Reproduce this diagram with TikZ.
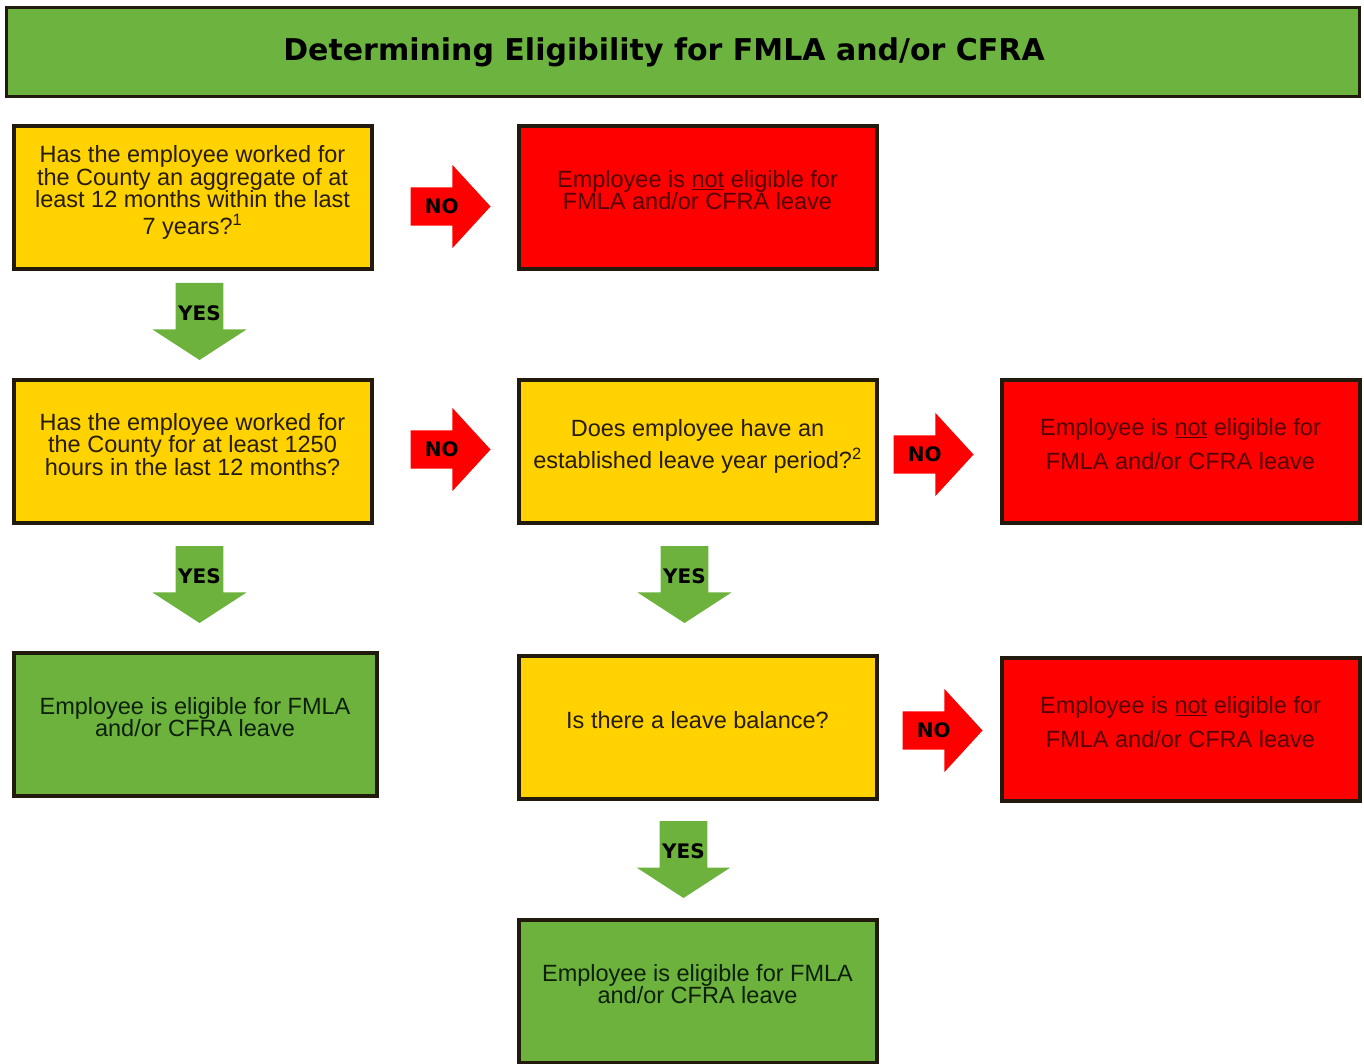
\documentclass[tikz,border=0pt]{standalone}
\usepackage{fontspec}
\setmainfont{Liberation Sans}
\newfontfamily\heavyfont{DejaVu Sans}
\usetikzlibrary{positioning,shapes.arrows,shadows}
\definecolor{titlegreen}{HTML}{6CB33F}
\definecolor{qyellow}{HTML}{FFD200}
\definecolor{nored}{HTML}{FF0000}
\definecolor{okgreen}{HTML}{6CB23C}
\definecolor{boxline}{HTML}{231A0E}
\definecolor{qtext}{HTML}{261C08}
\definecolor{notext}{HTML}{520202}
\definecolor{oktext}{HTML}{0C200A}
\tikzset{
  box/.style={rectangle, draw=boxline, line width=4pt, minimum width=358pt,
    minimum height=143pt, align=center, inner sep=4pt, text depth=15pt,
    font=\fontsize{23.5}{22.5}\selectfont,
    drop shadow={shadow xshift=2pt, shadow yshift=-2pt, opacity=.35}},
  question/.style={box, fill=qyellow, text=qtext},
  noelig/.style={box, fill=nored, text=notext},
  elig/.style={box, fill=okgreen, text=oktext},
  noarrow/.style={single arrow, fill=nored, draw=none, text=black,
    font=\heavyfont\bfseries\fontsize{20}{20}\selectfont,
    text height=14pt, text depth=0pt, inner ysep=12pt, inner xsep=4pt,
    minimum height=80pt, single arrow head extend=22.5pt,
    single arrow tip angle=95, outer sep=0pt},
  yesarrow/.style={single arrow, shape border rotate=270, fill=okgreen,
    draw=none, text=black, font=\heavyfont\bfseries\fontsize{20}{20}\selectfont,
    text height=14pt, text depth=0pt, inner ysep=16.5pt, inner xsep=2.5pt,
    minimum height=77pt, single arrow head extend=23pt,
    single arrow tip angle=114, outer sep=0pt}
}
\begin{document}
\begin{tikzpicture}[x=1pt, y=-1pt]
  \useasboundingbox (0,0) rectangle (1364,1064);
  % title bar
  \node[rectangle, draw=boxline, line width=3pt, fill=titlegreen,
    minimum width=1353pt, minimum height=89pt,
    font=\heavyfont\bfseries\fontsize{30}{30}\selectfont] (head) at (683,52)
    {Determining Eligibility for FMLA and/or CFRA\rule{38pt}{0pt}};

  % boxes
  \node[question] (q1) at (192.5,197.5)
    {Has the employee worked for\\the County an aggregate of at\\least 12 months within the last\\[4pt]7 years?\textsuperscript{1}};
  \node[noelig, right=143pt of q1] (r1)
    {Employee is \underline{not} eligible for\\FMLA and/or CFRA leave};
  \node[question, below=107pt of q1] (q2)
    {Has the employee worked for\\the County for at least 1250\\hours in the last 12 months?};
  \node[question, right=143pt of q2] (q3)
    {Does employee have an\\[6pt]established leave year period?\textsuperscript{2}};
  \node[noelig, right=121pt of q3] (r2)
    {Employee is \underline{not} eligible for\\[11pt]FMLA and/or CFRA leave};
  \node[elig, below=126pt of q2, minimum width=363pt, xshift=2.5pt] (g1)
    {Employee is eligible for FMLA\\and/or CFRA leave};
  \node[question, below=129pt of q3] (q4) {Is there a leave balance?};
  \node[noelig, right=121pt of q4, yshift=-2pt] (r3)
    {Employee is \underline{not} eligible for\\[11pt]FMLA and/or CFRA leave};
  \node[elig, below=117pt of q4] (g2)
    {Employee is eligible for FMLA\\and/or CFRA leave};

  % NO arrows
  \node[noarrow, right=37pt of q1, anchor=tail, yshift=-9pt] (n1) {NO};
  \node[noarrow, right=37pt of q2, anchor=tail, yshift=2pt] (n2) {NO};
  \node[noarrow, right=15pt of q3, anchor=tail, yshift=-3pt] (n3) {NO};
  \node[noarrow, right=24pt of q4, anchor=tail, yshift=-3pt] (n4) {NO};

  % YES arrows
  \node[yesarrow, below=12pt of q1, anchor=tail, xshift=7pt] (y1) {YES};
  \node[yesarrow, below=21pt of q2, anchor=tail, xshift=7pt] (y2) {YES};
  \node[yesarrow, below=21pt of q3, anchor=tail, xshift=-13pt] (y3) {YES};
  \node[yesarrow, below=20pt of q4, anchor=tail, xshift=-14pt] (y4) {YES};
\end{tikzpicture}
\end{document}
